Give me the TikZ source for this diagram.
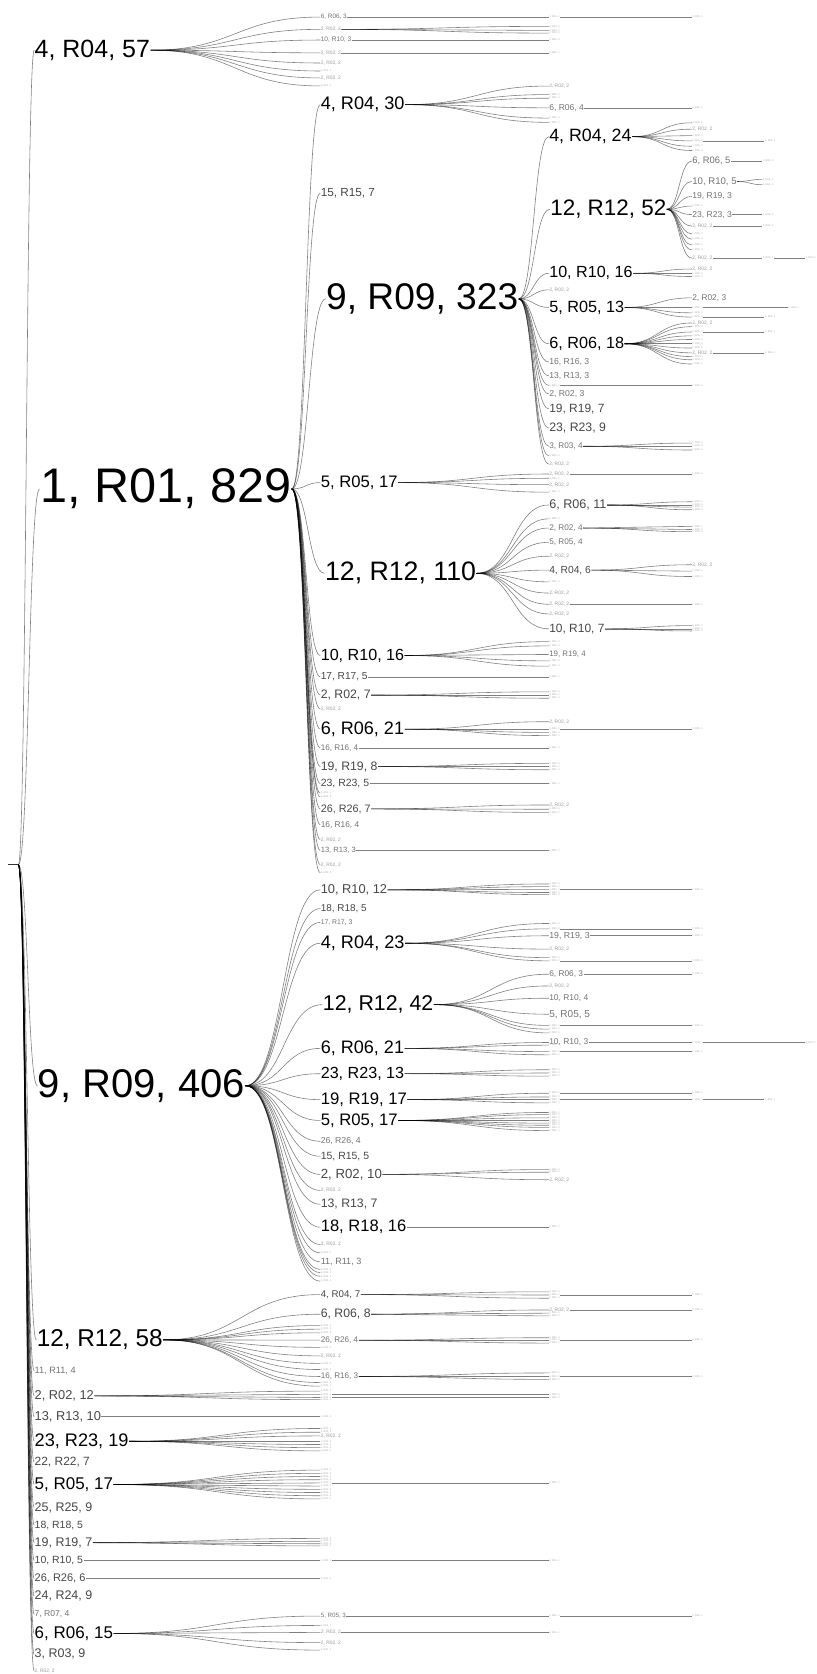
\documentclass[tikz,border=0pt]{standalone}
\usepackage{fontspec}
\setmainfont{Liberation Sans}
\usetikzlibrary{calc}
\tikzset{
 lbl/.style={anchor=west, inner sep=0.5pt, outer sep=0pt, text=black},
 lbg/.style={lbl, text=black!72},
 lbh/.style={lbl, text=black!55},
 ta/.style={lbl, text=black!40, font=\fontsize{4.6}{4.6}\selectfont},
 tb/.style={lbl, text=black!35, font=\fontsize{2.4}{2.4}\selectfont},
 edge/.style={draw=black, draw opacity=0.5, line width=0.55pt},
}
\newcommand\E[2]{\draw[edge] let \p1=(#1.east), \p2=(#2.west) in (\p1) .. controls ({0.5*\x1+0.5*\x2},\y1) and ({0.5*\x1+0.5*\x2},\y2) .. (\p2);}
\newcommand\Lb[6][lbl]{\node[#1,font=\fontsize{#5}{#5}\selectfont] (#2) at (#3,#4) {#6};}
\newcommand\Ta[3]{\node[ta] (#1) at (#2,#3) {2, R02, 2};}
\newcommand\Tb[3]{\node[tb] (#1) at (#2,#3) {1, R01, 1};}
\newcommand\Fan[3]{\foreach \yy [count=\k] in {#3} {\Tb{#1-\k}{#2}{\yy}\E{#1}{#1-\k}}}
\newcommand\Ch[4]{\Tb{#2}{#3}{#4}\E{#1}{#2}}
\begin{document}
\begin{tikzpicture}[x=1pt,y=-1pt]
\fill[white] (0,0) rectangle (765,1568);
\useasboundingbox (0,0) rectangle (765,1568);
% root
\node[inner sep=0pt,minimum size=0pt] (r0) at (7,810) {};
\node[inner sep=0pt,minimum size=0pt] (root) at (17,810) {};
\draw[edge, draw opacity=0.8] (r0) -- (root);
% level 1
\Lb{A1}{32}{47}{23.4}{4, R04, 57}
\Lb{A2}{37}{458}{45.5}{1, R01, 829}
\Lb{A3}{35}{1017}{37.5}{9, R09, 406}
\Lb{A4}{34}{1255}{22.8}{12, R12, 58}
\Lb[lbh]{A5}{32}{1284}{8.6}{11, R11, 4}
\Lb[lbg]{A6}{32}{1307.5}{12}{2, R02, 12}
\Lb[lbg]{A7}{32}{1327}{12}{13, R13, 10}
\Lb{A8}{32}{1350}{17}{23, R23, 19}
\Lb[lbg]{A9}{32}{1369.5}{11.2}{22, R22, 7}
\Lb{A10}{32}{1390.5}{15.9}{5, R05, 17}
\Lb[lbg]{A11}{32}{1412}{11.7}{25, R25, 9}
\Lb[lbg]{A12}{32}{1428.6}{9.8}{18, R18, 5}
\Lb[lbg]{A13}{32}{1445}{11.7}{19, R19, 7}
\Lb[lbg]{A14}{32}{1461.6}{9.8}{10, R10, 5}
\Lb[lbg]{A15}{32}{1478.5}{10.3}{26, R26, 6}
\Lb[lbg]{A16}{32}{1495}{11.7}{24, R24, 9}
\Lb[lbh]{A17}{32}{1512}{8}{7, R07, 4}
\Lb{A18}{32}{1530}{15.9}{6, R06, 15}
\Lb[lbg]{A19}{32}{1549.6}{11.7}{3, R03, 9}
\Ta{A20}{32}{1565}
\foreach \i in {1,...,20} {\E{root}{A\i}}
% ---- A1 subtree
\Lb[lbh]{B1a}{300}{16}{6}{6, R06, 3}
\Ta{B1b}{300}{27.5}
\Lb[lbh]{B1c}{300}{37.5}{6.2}{10, R10, 3}
\Ta{B1d}{300}{49.5}
\Ta{B1e}{300}{59}
\Tb{B1f}{300}{66.5}
\Ta{B1g}{300}{73}
\Tb{B1h}{300}{80.5}
\foreach \c in {a,...,h} {\E{A1}{B1\c}}
\Ch{B1a}{B1a-1}{514}{16}
\Ch{B1a-1}{B1a-1-1}{648}{16}
\Fan{B1b}{514}{24.7,28.5,31}
\Ch{B1c}{B1c-1}{514}{37.5}
\Ch{B1d}{B1d-1}{514}{49.5}
% ---- A2 subtree
\Lb{B2a}{300}{98}{17}{4, R04, 30}
\Lb[lbg]{B2b}{300}{181}{11}{15, R15, 7}
\Lb{B2c}{305}{280}{34.8}{9, R09, 323}
\Lb{B2d}{300}{452}{15.6}{5, R05, 17}
\Lb{B2e}{304}{537}{25}{12, R12, 110}
\Lb{B2f}{300}{614}{15.1}{10, R10, 16}
\Lb[lbg]{B2g}{300}{634}{9.5}{17, R17, 5}
\Lb[lbg]{B2h}{300}{651}{11.5}{2, R02, 7}
\Ta{B2i}{300}{664}
\Lb{B2j}{300}{683}{16.9}{6, R06, 21}
\Lb[lbh]{B2k}{300}{700.6}{7.6}{16, R16, 4}
\Lb[lbg]{B2l}{300}{718}{11.5}{19, R19, 8}
\Lb[lbg]{B2m}{300}{734}{9.8}{23, R23, 5}
\Tb{B2n}{300}{743}
\Tb{B2o}{300}{746.5}
\Lb[lbg]{B2p}{300}{757.7}{10.1}{26, R26, 7}
\Lb[lbh]{B2q}{300}{772.5}{7.8}{16, R16, 4}
\Ta{B2r}{300}{786.5}
\Lb[lbh]{B2s}{300}{796.5}{7.1}{13, R13, 3}
\Ta{B2t}{300}{810}
\Tb{B2u}{300}{817.5}
\foreach \c in {a,...,u} {\E{A2}{B2\c}}
% B2a children
\Ta{B2a-1}{514}{80.6}
\Tb{B2a-2}{514}{88.6}
\Tb{B2a-3}{514}{92}
\Lb[lbh]{B2a-4}{514}{101}{8}{6, R06, 4}
\Tb{B2a-5}{514}{110.6}
\Tb{B2a-6}{514}{114.6}
\foreach \c in {1,...,6} {\E{B2a}{B2a-\c}}
\Ch{B2a-4}{B2a-4-1}{648}{101}
% B2c children (9, R09, 323)
\Lb{C1}{514}{128}{16.7}{4, R04, 24}
\Lb{C2}{515}{196}{21}{12, R12, 52}
\Lb{C3}{514}{256}{15.1}{10, R10, 16}
\Ta{C4}{514}{271.5}
\Lb{C5}{514}{288}{15.2}{5, R05, 13}
\Lb{C6}{514}{322}{15.2}{6, R06, 18}
\Lb[lbh]{C7}{514}{339}{8.1}{16, R16, 3}
\Lb[lbh]{C8}{514}{352}{8.1}{13, R13, 3}
\Tb{C9}{514}{361}
\Lb[lbh]{C10}{514}{369}{8.1}{2, R02, 3}
\Lb[lbg]{C11}{514}{383}{11.2}{19, R19, 7}
\Lb[lbg]{C12}{514}{401}{11.5}{23, R23, 9}
\Lb[lbh]{C13}{514}{418}{7.7}{3, R03, 4}
\Tb{C14}{514}{427}
\Ta{C15}{514}{434.6}
\foreach \c in {1,...,15} {\E{B2c}{C\c}}
% C1
\Tb{C1-1}{648}{115}
\Ta{C1-2}{648}{121}
\Tb{C1-3}{648}{127}
\Tb{C1-4}{648}{132}
\Tb{C1-5}{648}{137}
\Tb{C1-6}{648}{141}
\foreach \c in {1,...,6} {\E{C1}{C1-\c}}
\Ch{C1-4}{C1-4-1}{716}{132}
% C2
\Lb[lbh]{C2a}{648}{151}{8.8}{6, R06, 5}
\Lb[lbh]{C2b}{648}{170}{9}{10, R10, 5}
\Lb[lbh]{C2c}{648}{184}{8}{19, R19, 3}
\Tb{C2d}{648}{193}
\Lb[lbh]{C2e}{648}{201}{8}{23, R23, 3}
\Ta{C2f}{648}{211.7}
\Tb{C2g}{648}{219}
\Tb{C2h}{648}{224}
\Tb{C2i}{648}{229.5}
\Tb{C2j}{648}{234}
\Ta{C2k}{648}{241.7}
\foreach \c in {a,...,k} {\E{C2}{C2\c}}
\Ch{C2a}{C2a-1}{714}{151}
\Fan{C2b}{714}{168,173}
\Ch{C2e}{C2e-1}{714}{201}
\Ch{C2f}{C2f-1}{714}{211.7}
\Ch{C2k}{C2k-1}{714}{241.7}
\Ch{C2k-1}{C2k-1-1}{754}{241.7}
% C3
\Ta{C3-1}{648}{252}
\Tb{C3-2}{648}{256}
\Tb{C3-3}{648}{259}
\foreach \c in {1,...,3} {\E{C3}{C3-\c}}
% C5
\Lb[lbh]{C5-1}{648}{279}{7.8}{2, R02, 3}
\Tb{C5-2}{648}{288}
\Tb{C5-3}{648}{293}
\Tb{C5-4}{648}{297}
\foreach \c in {1,...,4} {\E{C5}{C5-\c}}
\Ch{C5-2}{C5-2-1}{738}{288}
\Ch{C5-4}{C5-4-1}{716}{297}
% C6
\Ta{C6-1}{648}{302.5}
\Tb{C6-2}{648}{306}
\Tb{C6-3}{648}{311}
\Tb{C6-4}{648}{314.6}
\Tb{C6-5}{648}{318}
\Tb{C6-6}{648}{322}
\Tb{C6-7}{648}{326}
\Ta{C6-8}{648}{330.5}
\Tb{C6-9}{648}{334}
\Tb{C6-10}{648}{337}
\Tb{C6-11}{648}{341}
\foreach \c in {1,...,11} {\E{C6}{C6-\c}}
\Ch{C6-3}{C6-3-1}{716}{311}
\Ch{C6-8}{C6-8-1}{716}{330.5}
\Ch{C9}{C9-1}{648}{361}
\Fan{C13}{648}{415,418,421.5}
% B2d children
\Ta{B2d-1}{514}{444}
\Tb{B2d-2}{514}{448}
\Ta{B2d-3}{514}{454}
\Tb{B2d-4}{514}{461}
\foreach \c in {1,...,4} {\E{B2d}{B2d-\c}}
\Ch{B2d-1}{B2d-1-1}{648}{444}
% B2e children (12, R12, 110)
\Lb[lbg]{G1}{514}{473}{11.8}{6, R06, 11}
\Tb{G2}{514}{486}
\Lb[lbh]{G3}{514}{494.6}{7.7}{2, R02, 4}
\Lb[lbh]{G4}{514}{508}{7.7}{5, R05, 4}
\Ta{G5}{514}{521}
\Lb[lbg]{G6}{514}{534}{9.6}{4, R04, 6}
\Tb{G7}{514}{545}
\Ta{G8}{514}{555.5}
\Ta{G9}{514}{566}
\Ta{G10}{514}{575}
\Lb[lbg]{G11}{514}{589}{11.2}{10, R10, 7}
\foreach \c in {1,...,11} {\E{B2e}{G\c}}
\Fan{G1}{648}{470,473,475,477.5}
\Fan{G3}{648}{493,496,498}
\Ta{G6-1}{648}{529}
\Tb{G6-2}{648}{535}
\Tb{G6-3}{648}{540}
\foreach \c in {1,...,3} {\E{G6}{G6-\c}}
\Ch{G9}{G9-1}{648}{566}
\Fan{G11}{648}{586,589,591}
% B2f .. B2s children
\Tb{B2f-1}{514}{601}
\Tb{B2f-2}{514}{605}
\Lb[lbh]{B2f-3}{514}{613}{7.4}{19, R19, 4}
\Tb{B2f-4}{514}{619}
\Tb{B2f-5}{514}{624}
\foreach \c in {1,...,5} {\E{B2f}{B2f-\c}}
\Ch{B2g}{B2g-1}{514}{634}
\Fan{B2h}{514}{648,651,654}
\Ta{B2j-1}{514}{676}
\Tb{B2j-2}{514}{683}
\Tb{B2j-3}{514}{686}
\Tb{B2j-4}{514}{689}
\foreach \c in {1,...,4} {\E{B2j}{B2j-\c}}
\Ch{B2j-2}{B2j-2-1}{648}{683}
\Ch{B2k}{B2k-1}{514}{700.6}
\Fan{B2l}{514}{715,718,721}
\Ch{B2m}{B2m-1}{514}{734}
\Ta{B2p-1}{514}{754}
\Tb{B2p-2}{514}{758}
\Tb{B2p-3}{514}{761}
\foreach \c in {1,...,3} {\E{B2p}{B2p-\c}}
\Ch{B2s}{B2s-1}{514}{796.5}
% ---- A3 subtree (9, R09, 406)
\Lb[lbg]{B3a}{300}{833.5}{12}{10, R10, 12}
\Lb[lbg]{B3b}{300}{851}{9.3}{18, R18, 5}
\Lb[lbh]{B3c}{300}{864}{6.4}{17, R17, 3}
\Lb{B3d}{300}{883.5}{17}{4, R04, 23}
\Lb{B3e}{302}{941}{20}{12, R12, 42}
\Lb{B3f}{300}{982}{16.9}{6, R06, 21}
\Lb{B3g}{300}{1005.7}{15.1}{23, R23, 13}
\Lb{B3h}{300}{1030}{15.6}{19, R19, 17}
\Lb{B3i}{300}{1049.5}{15.6}{5, R05, 17}
\Lb[lbh]{B3j}{300}{1069}{8.1}{26, R26, 4}
\Lb[lbg]{B3k}{300}{1083}{9.8}{15, R15, 5}
\Lb[lbg]{B3l}{300}{1100}{12.4}{2, R02, 10}
\Ta{B3m}{300}{1115}
\Lb[lbg]{B3n}{300}{1128}{11.5}{13, R13, 7}
\Lb{B3o}{300}{1149.5}{15.5}{18, R18, 16}
\Ta{B3p}{300}{1165.7}
\Tb{B3q}{300}{1173.5}
\Lb[lbh]{B3r}{300}{1182}{8.5}{11, R11, 3}
\Tb{B3s}{300}{1189}
\Tb{B3t}{300}{1192}
\Tb{B3u}{300}{1195.5}
\Tb{B3v}{300}{1200}
\foreach \c in {a,...,v} {\E{A3}{B3\c}}
\Fan{B3a}{514}{828,830.5,833,836,838}
\Ch{B3a-3}{B3a-3-1}{648}{833}
\Tb{B3d-1}{514}{865}
\Tb{B3d-2}{514}{870}
\Lb[lbh]{B3d-3}{514}{876.5}{8.2}{19, R19, 3}
\Ta{B3d-4}{514}{889}
\Tb{B3d-5}{514}{897}
\Tb{B3d-6}{514}{900}
\foreach \c in {1,...,6} {\E{B3d}{B3d-\c}}
\Ch{B3d-2}{B3d-2-1}{648}{870}
\Ch{B3d-3}{B3d-3-1}{648}{876.5}
\Ch{B3d-6}{B3d-6-1}{648}{900}
\Lb[lbh]{B3e-1}{514}{912.5}{7.8}{6, R06, 3}
\Ta{B3e-2}{514}{923.5}
\Lb[lbh]{B3e-3}{514}{935}{7.9}{10, R10, 4}
\Lb[lbh]{B3e-4}{514}{950}{9.4}{5, R05, 5}
\Tb{B3e-5}{514}{960.5}
\Tb{B3e-6}{514}{964}
\Tb{B3e-7}{514}{967.5}
\foreach \c in {1,...,7} {\E{B3e}{B3e-\c}}
\Ch{B3e-1}{B3e-1-1}{648}{912.5}
\Ch{B3e-5}{B3e-5-1}{648}{960.5}
\Lb[lbh]{B3f-1}{514}{976.5}{7.9}{10, R10, 3}
\Tb{B3f-2}{514}{979}
\Tb{B3f-3}{514}{985}
\Tb{B3f-4}{514}{988}
\foreach \c in {1,...,4} {\E{B3f}{B3f-\c}}
\Ch{B3f-1}{B3f-1-1}{648}{976.5}
\Ch{B3f-1-1}{B3f-1-1-1}{754}{976.5}
\Ch{B3f-3}{B3f-3-1}{648}{985}
\Fan{B3g}{514}{1002,1005,1008}
\Fan{B3h}{514}{1024,1027.5,1030,1033}
\Ch{B3h-1}{B3h-1-1}{648}{1024}
\Ch{B3h-3}{B3h-3-1}{648}{1030}
\Ch{B3h-3-1}{B3h-3-1-1}{716}{1030}
\Fan{B3i}{514}{1042,1044,1047,1049.5,1052,1054,1056,1059}
\Tb{B3l-1}{514}{1095.5}
\Tb{B3l-2}{514}{1098}
\Ta{B3l-3}{514}{1105}
\foreach \c in {1,...,3} {\E{B3l}{B3l-\c}}
\Ch{B3o}{B3o-1}{514}{1149.5}
% ---- A4 subtree (12, R12, 58)
\Lb[lbg]{B4a}{300}{1212.6}{9.1}{4, R04, 7}
\Lb[lbg]{B4b}{300}{1231}{11.5}{6, R06, 8}
\Tb{B4c}{300}{1241.6}
\Tb{B4d}{300}{1245}
\Tb{B4e}{300}{1248.4}
\Lb[lbh]{B4f}{300}{1255.3}{7.6}{26, R26, 4}
\Tb{B4g}{300}{1262}
\Ta{B4h}{300}{1270}
\Tb{B4i}{300}{1277}
\Tb{B4j}{300}{1282.8}
\Lb[lbh]{B4k}{300}{1289.3}{7.6}{16, R16, 3}
\Tb{B4l}{300}{1295}
\Tb{B4m}{300}{1298.4}
\foreach \c in {a,...,m} {\E{A4}{B4\c}}
\Fan{B4a}{514}{1210,1213,1216}
\Ch{B4a-2}{B4a-2-1}{648}{1213}
\Ta{B4b-1}{514}{1227}
\Tb{B4b-2}{514}{1230}
\Tb{B4b-3}{514}{1232.6}
\foreach \c in {1,...,3} {\E{B4b}{B4b-\c}}
\Ch{B4b-1}{B4b-1-1}{648}{1227}
\Fan{B4f}{514}{1253,1255.3,1258}
\Ch{B4f-2}{B4f-2-1}{648}{1255.3}
\Fan{B4k}{514}{1286,1289.3,1292}
\Ch{B4k-2}{B4k-2-1}{648}{1289.3}
% ---- other level-1 subtrees
\Fan{A6}{300}{1303,1306,1309,1311}
\Ch{A6-2}{A6-2-1}{514}{1306}
\Ch{A6-3}{A6-3-1}{514}{1309}
\Ch{A7}{A7-1}{300}{1327}
\Tb{A8-1}{300}{1338}
\Tb{A8-2}{300}{1341.5}
\Ta{A8-3}{300}{1345}
\Tb{A8-4}{300}{1350}
\Tb{A8-5}{300}{1353}
\Tb{A8-6}{300}{1356}
\Tb{A8-7}{300}{1359}
\foreach \c in {1,...,7} {\E{A8}{A8-\c}}
\Fan{A10}{300}{1377,1380,1383,1386,1389,1392,1395,1398,1401,1404}
\Ch{A10-5}{A10-5-1}{514}{1389}
\Fan{A13}{300}{1441,1443.6,1446,1448}
\Ch{A14}{A14-1}{300}{1461.6}
\Ch{A14-1}{A14-1-1}{514}{1461.6}
\Ch{A15}{A15-1}{300}{1478.5}
\Lb[lbh]{A18-1}{300}{1513.7}{5.8}{5, R05, 3}
\Tb{A18-2}{300}{1522.5}
\Ta{A18-3}{300}{1529}
\Ta{A18-4}{300}{1538.6}
\Tb{A18-5}{300}{1545.6}
\foreach \c in {1,...,5} {\E{A18}{A18-\c}}
\Ch{A18-1}{A18-1-1}{514}{1513.7}
\Ch{A18-1-1}{A18-1-1-1}{648}{1513.7}
\Ch{A18-3}{A18-3-1}{514}{1529}
\end{tikzpicture}
\end{document}
